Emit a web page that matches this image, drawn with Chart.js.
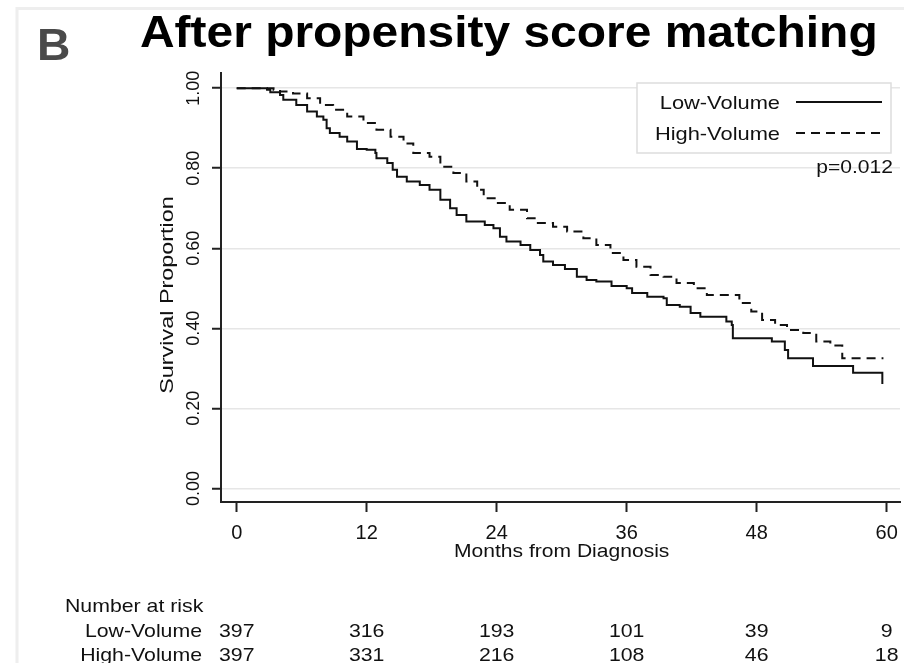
<!DOCTYPE html>
<html>
<head>
<meta charset="utf-8">
<script src="https://cdn.jsdelivr.net/npm/chart.js@4.4.0/dist/chart.umd.min.js"></script>
<style>
  html, body { margin: 0; padding: 0; background: #fff; }
  #km { display: block; }
</style>
</head>
<body>
<canvas id="km" width="904" height="663"></canvas>
<script>
// Kaplan-Meier survival, months from diagnosis
const lowMonths = [0, 2.8, 3.1, 4.0, 4.3, 5.5, 6.5, 7.4, 8.0, 8.3, 8.6, 9.5, 10.2, 11.1, 12.0, 12.8, 12.9, 13.9, 14.4, 14.8,
  15.7, 16.9, 17.8, 18.8, 19.7, 20.3, 21.2, 22.9, 23.7, 24.3, 24.9, 26.2, 27.1, 28.0, 28.3, 29.2, 30.3, 31.4, 32.3, 33.2,
  34.6, 36.0, 36.5, 37.9, 39.4, 39.7, 40.9, 41.9, 42.8, 45.2, 45.7, 45.8, 49.4, 50.6, 50.9, 53.2, 56.9, 59.6];
const lowSurv = [1, 0.996, 0.990, 0.983, 0.971, 0.958, 0.942, 0.929, 0.921, 0.900, 0.888, 0.879, 0.867, 0.848, 0.846, 0.838, 0.825, 0.813, 0.796, 0.779,
  0.767, 0.758, 0.746, 0.721, 0.700, 0.683, 0.667, 0.658, 0.650, 0.629, 0.617, 0.608, 0.596, 0.583, 0.567, 0.558, 0.548, 0.529, 0.521, 0.517,
  0.506, 0.500, 0.488, 0.479, 0.475, 0.458, 0.454, 0.438, 0.429, 0.417, 0.408, 0.375, 0.367, 0.346, 0.325, 0.306, 0.289, 0.261];

const highMonths = [0, 3.4, 4.0, 5.2, 6.5, 7.7, 8.9, 10.2, 11.7, 12.9, 14.2, 15.4, 16.3, 17.8, 18.8, 20.0, 21.2, 22.2, 22.8,
  24.0, 25.2, 26.8, 27.7, 29.2, 30.5, 32.0, 33.2, 34.5, 35.7, 36.9, 38.2, 39.4, 40.6, 42.2, 43.4, 46.4, 47.5, 48.5, 49.7,
  50.8, 52.3, 53.5, 54.8, 55.9, 59.7];
const highSurv = [1, 0.996, 0.992, 0.987, 0.975, 0.958, 0.946, 0.929, 0.913, 0.896, 0.879, 0.862, 0.838, 0.829, 0.804, 0.788, 0.767, 0.746, 0.725,
  0.713, 0.696, 0.675, 0.663, 0.654, 0.642, 0.625, 0.608, 0.588, 0.571, 0.554, 0.533, 0.529, 0.513, 0.500, 0.483, 0.463, 0.442, 0.421, 0.408,
  0.396, 0.388, 0.367, 0.357, 0.325, 0.325];

const groups = ['Low-Volume', 'High-Volume'];
const monthTicks = [0, 12, 24, 36, 48, 60];
const survTicks = [0, 0.2, 0.4, 0.6, 0.8, 1.0];
const riskLow = [397, 316, 193, 101, 39, 9];
const riskHigh = [397, 331, 216, 108, 46, 18];
const pText = 'p=0.012';

const FONT = '"Liberation Sans", Arial, Helvetica, sans-serif';
const WIDEN = 1.17;   // Stata text runs a little wide
const INK = '#111';

function toPoints(xs, ys) {
  return xs.map((x, i) => ({ x: x, y: ys[i] }));
}

// sx/sy stretch the text in its own frame (before rotation is applied on screen)
function text(ctx, s, x, y, size, align, o = {}) {
  ctx.save();
  ctx.translate(x, y);
  if (o.rotate) ctx.rotate(o.rotate);
  ctx.scale(o.sx ?? WIDEN, o.sy ?? 1);
  ctx.font = (o.bold ? 'bold ' : '') + size + 'px ' + FONT;
  ctx.fillStyle = o.color || INK;
  ctx.textAlign = align;
  ctx.textBaseline = o.baseline || 'alphabetic';
  ctx.fillText(s, 0, 0);
  ctx.restore();
}

const decorations = {
  id: 'decorations',
  beforeDraw(chart) {
    const ctx = chart.ctx;
    ctx.save();
    ctx.fillStyle = '#fff';
    ctx.fillRect(0, 0, chart.width, chart.height);
    // faint panel frame
    ctx.strokeStyle = '#eeeeee';
    ctx.lineWidth = 3;
    ctx.beginPath();
    ctx.moveTo(17, chart.height);
    ctx.lineTo(17, 8.5);
    ctx.lineTo(chart.width, 8.5);
    ctx.stroke();
    ctx.restore();
  },
  afterDraw(chart) {
    const ctx = chart.ctx;
    const xs = chart.scales.x;

    text(ctx, 'B', 37, 60, 44, 'left', { bold: true, color: '#4a4a4a', sx: 1.05 });
    text(ctx, 'After propensity score matching', 140, 47, 45, 'left', { bold: true, color: '#000', sx: 1.065 });

    text(ctx, 'Survival Proportion', 168, 295, 18, 'center', { rotate: -Math.PI / 2, baseline: 'middle', sx: 1.3, sy: 1 });
    text(ctx, 'Months from Diagnosis', (xs.getPixelForValue(24) + xs.getPixelForValue(36)) / 2, 557, 18, 'center');

    // legend box: label on the left, line sample on the right
    ctx.save();
    ctx.fillStyle = '#fff';
    ctx.fillRect(637, 83, 254, 70);
    ctx.strokeStyle = '#dddddd';
    ctx.lineWidth = 1.5;
    ctx.strokeRect(637, 83, 254, 70);
    ctx.restore();
    chart.data.datasets.forEach((ds, i) => {
      const y = 102 + i * 31;
      text(ctx, ds.label, 780, y + 7, 19, 'right', { sx: 1.15 });
      ctx.save();
      ctx.strokeStyle = ds.borderColor;
      ctx.lineWidth = ds.borderWidth;
      ctx.setLineDash(ds.borderDash || []);
      ctx.beginPath();
      ctx.moveTo(796, y);
      ctx.lineTo(882, y);
      ctx.stroke();
      ctx.restore();
    });

    text(ctx, pText, 893, 173, 18, 'right');

    // number at risk table under the axis
    text(ctx, 'Number at risk', 65, 612, 19, 'left', { sx: 1.12 });
    [riskLow, riskHigh].forEach((row, r) => {
      const y = 637 + r * 24;
      text(ctx, groups[r], 202, y, 19, 'right', { sx: 1.12 });
      row.forEach((n, i) => {
        text(ctx, String(n), xs.getPixelForValue(monthTicks[i]), y, 19, 'center', { sx: 1.12 });
      });
    });
  }
};

new Chart(document.getElementById('km'), {
  type: 'line',
  data: {
    datasets: [
      {
        label: groups[0],
        data: toPoints(lowMonths, lowSurv),
        borderColor: INK,
        borderWidth: 2,
        stepped: true,
        pointRadius: 0,
        fill: false
      },
      {
        label: groups[1],
        data: toPoints(highMonths, highSurv),
        borderColor: INK,
        borderWidth: 2,
        borderDash: [9, 6],
        stepped: true,
        pointRadius: 0,
        fill: false
      }
    ]
  },
  options: {
    responsive: false,
    animation: false,
    devicePixelRatio: 1,
    layout: { padding: { top: 73, right: 4, left: 0, bottom: 0 } },
    plugins: {
      legend: { display: false },
      tooltip: { enabled: false }
    },
    scales: {
      x: {
        type: 'linear',
        min: -1.45,
        max: 61.23,
        afterBuildTicks: s => { s.ticks = monthTicks.map(v => ({ value: v })); },
        // fixed box so the plot area does not move with label widths
        afterFit: s => { s.height = 161; s.paddingLeft = 0; s.paddingRight = 0; },
        ticks: {
          color: INK,
          padding: 9,
          maxRotation: 0,
          font: { family: FONT, size: 20 },
          callback: v => String(v)
        },
        grid: { drawOnChartArea: false, tickLength: 10, tickColor: '#222', tickWidth: 2 },
        border: { color: '#222', width: 2 }
      },
      y: {
        min: -0.034,
        max: 1.038,
        afterBuildTicks: s => { s.ticks = survTicks.map(v => ({ value: v })); },
        afterFit: s => { s.width = 221; s.paddingTop = 0; s.paddingBottom = 0; },
        ticks: {
          color: INK,
          padding: 0,
          minRotation: 90,
          maxRotation: 90,
          crossAlign: 'center',
          font: { family: FONT, size: 18 },
          callback: v => v.toFixed(2)
        },
        grid: { color: '#e6e6e6', lineWidth: 1.5, tickLength: 9, tickColor: '#222', tickWidth: 2 },
        border: { color: '#222', width: 2 }
      }
    }
  },
  plugins: [decorations]
});
</script>
</body>
</html>
